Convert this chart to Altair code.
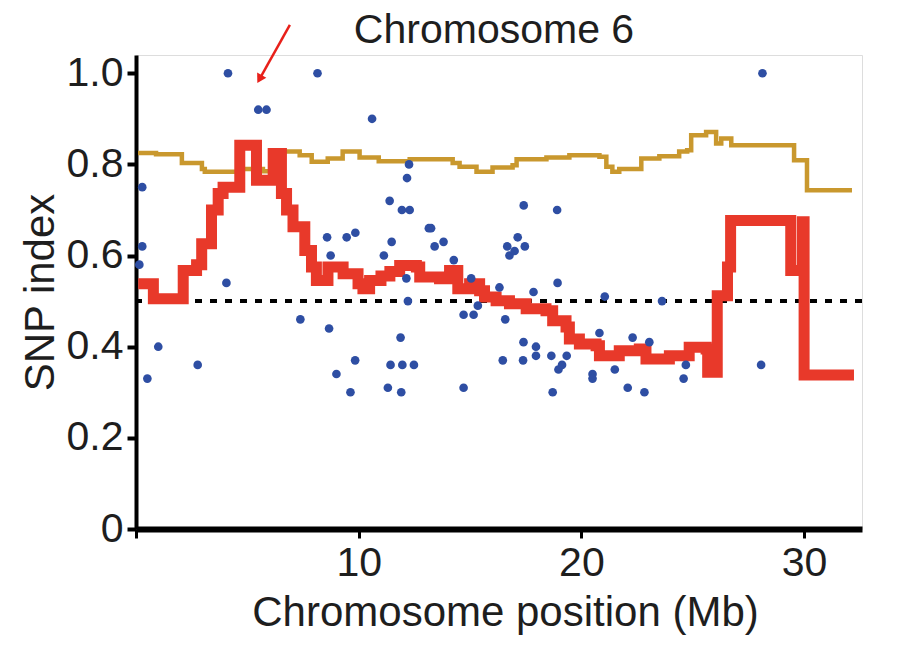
import altair as alt
import pandas as pd

# ---- data ----
pt_x = [0.15, 0.28, 0.28, 0.51, 1.00, 2.77, 4.06, 4.13, 5.49, 5.86, 7.38, 8.15, 8.58, 8.67, 8.74,
        9.00, 9.46, 9.63, 9.84, 9.85, 10.60, 11.13, 11.31, 11.39, 11.43, 11.48, 11.88, 11.91, 11.94,
        11.96, 12.14, 12.17, 12.21, 12.26, 12.29, 12.48, 13.15, 13.25, 13.41, 13.81, 14.27, 14.71,
        14.71, 15.05, 15.16, 15.35, 16.32, 16.47, 16.58, 16.67, 16.77, 17.00, 17.14, 17.38, 17.40,
        17.41, 17.46, 17.85, 17.96, 17.96, 18.65, 18.71, 18.91, 18.93, 18.97, 19.13, 19.34, 20.50,
        20.50, 20.81, 21.05, 21.50, 22.08, 22.30, 22.83, 23.05, 23.62, 24.59, 24.69, 28.07, 28.13]
pt_y = [0.58, 0.75, 0.62, 0.33, 0.40, 0.36, 0.54, 1.00, 0.92, 0.92, 0.46, 1.00, 0.64, 0.44, 0.60,
        0.34, 0.64, 0.30, 0.37, 0.65, 0.90, 0.60, 0.31, 0.72, 0.36, 0.63, 0.42, 0.30, 0.70,
        0.36, 0.55, 0.77, 0.50, 0.80, 0.70, 0.36, 0.66, 0.66, 0.62, 0.63, 0.59, 0.47,
        0.31, 0.55, 0.47, 0.49, 0.53, 0.37, 0.46, 0.62, 0.60, 0.61, 0.64, 0.37, 0.41,
        0.71, 0.62, 0.52, 0.40, 0.38, 0.38, 0.30, 0.70, 0.54, 0.35, 0.36, 0.38, 0.34,
        0.33, 0.43, 0.51, 0.35, 0.31, 0.42, 0.30, 0.41, 0.50, 0.33, 0.36, 0.36, 1.00]

gold_x = [0.09, 0.90, 2.06, 2.96, 3.09, 4.66, 5.70, 6.59, 7.35, 7.89, 8.61, 9.28, 10.04, 10.90,
          12.29, 14.22, 14.53, 15.29, 16.01, 16.91, 17.09, 18.43, 19.46, 20.81, 21.12, 21.39,
          21.70, 22.69, 23.50, 24.39, 24.75, 24.93, 25.60, 26.05, 26.28, 26.73, 29.55, 30.13, 32.15]
gold_y = [0.825, 0.822, 0.803, 0.790, 0.784, 0.790, 0.785, 0.828, 0.820, 0.806, 0.813, 0.828,
          0.815, 0.807, 0.811, 0.803, 0.795, 0.784, 0.793, 0.798, 0.811, 0.815, 0.820, 0.817,
          0.795, 0.784, 0.790, 0.813, 0.818, 0.828, 0.831, 0.864, 0.871, 0.846, 0.857, 0.842,
          0.809, 0.743, 0.743]

red_x = [0.10, 0.78, 2.12, 2.72, 2.95, 3.39, 3.69, 3.91, 4.66, 5.41, 6.16, 6.53, 6.76, 7.05, 7.58,
         7.88, 8.10, 8.62, 9.30, 9.97, 10.19, 10.49, 11.00, 11.40, 11.84, 12.59, 12.74, 13.63,
         14.08, 14.45, 14.98, 15.43, 15.65, 16.17, 16.77, 17.52, 18.41, 18.71, 19.31, 19.46,
         19.91, 20.66, 20.81, 21.70, 22.60, 22.90, 23.95, 24.84, 25.60, 25.67, 26.10, 26.56,
         26.70, 29.40, 29.92, 30.00, 32.24]
red_y = [0.538, 0.505, 0.567, 0.580, 0.626, 0.700, 0.736, 0.750, 0.842, 0.765, 0.824, 0.736, 0.700,
         0.663, 0.611, 0.575, 0.545, 0.575, 0.560, 0.538, 0.527, 0.545, 0.555, 0.565, 0.578, 0.575,
         0.553, 0.549, 0.567, 0.527, 0.538, 0.523, 0.509, 0.501, 0.494, 0.483, 0.479, 0.457,
         0.443, 0.417, 0.406, 0.402, 0.380, 0.391, 0.395, 0.373, 0.380, 0.399, 0.395, 0.344,
         0.512, 0.575, 0.677, 0.567, 0.674, 0.338, 0.338]

threshold = [0.5]

# annotation arrow (start -> tip), in data units
arrow_x = [6.91]
arrow_y = [1.106]
arrow_x2 = [5.52]
arrow_y2 = [0.985]
head_x = [5.58]
head_y = [0.99]

title_text = "Chromosome 6"
x_title = "Chromosome position (Mb)"
y_title = "SNP index"
x_ticks = [0, 10, 20, 30]
y_ticks = [0, 0.2, 0.4, 0.6, 0.8, 1.0]

FONT = "Liberation Sans"
TXT = "#1e1e1e"

pts = pd.DataFrame({"x": pt_x, "y": pt_y})
gold = pd.DataFrame({"x": gold_x, "y": gold_y})
red = pd.DataFrame({"x": red_x, "y": red_y})
thr = pd.DataFrame({"y": threshold})
arrow = pd.DataFrame({"x": arrow_x, "y": arrow_y, "x2": arrow_x2, "y2": arrow_y2})
head = pd.DataFrame({"x": head_x, "y": head_y})

xs = alt.Scale(domain=[0, 32.6], nice=False, zero=False)
ys = alt.Scale(domain=[0, 1.04], nice=False)

x_axis = alt.Axis(values=x_ticks, labelExpr="datum.value == 0 ? '' : datum.label",
                  title=x_title, grid=False, domainWidth=6, domainColor="black",
                  tickColor="black", tickWidth=3, tickSize=9, labelFontSize=41,
                  titleFontSize=42, labelFont=FONT, titleFont=FONT, labelColor=TXT,
                  titleColor=TXT, titleFontWeight="normal", labelPadding=5, titlePadding=9,
                  titleX=369)
y_axis = alt.Axis(values=y_ticks,
                  labelExpr="datum.value == 0 ? '0' : format(datum.value, '.1f')",
                  title=y_title, grid=False, domainWidth=4, domainColor="black",
                  tickColor="black", tickWidth=4, tickSize=9, labelFontSize=41,
                  titleFontSize=42, labelFont=FONT, titleFont=FONT, labelColor=TXT,
                  titleColor=TXT, titleFontWeight="normal", labelPadding=4, titlePadding=4)

X = alt.X("x:Q", scale=xs, axis=x_axis)
Y = alt.Y("y:Q", scale=ys, axis=y_axis)

thr_layer = alt.Chart(thr).mark_rule(color="black", strokeWidth=4, strokeDash=[7, 8]).encode(
    y=alt.Y("y:Q", scale=ys, axis=y_axis))

gold_layer = alt.Chart(gold).mark_line(color="#c9982e", strokeWidth=4.5,
                                       interpolate="step-after").encode(x=X, y=Y)
red_layer = alt.Chart(red).mark_line(color="#e8392a", strokeWidth=11,
                                     interpolate="step-after").encode(x=X, y=Y)
pt_layer = alt.Chart(pts).mark_circle(color="#2e4ea3", size=75, opacity=1).encode(x=X, y=Y)

arrow_layer = alt.Chart(arrow).mark_rule(color="#e8201a", strokeWidth=2.5, clip=False).encode(
    x=X, y=Y, x2="x2:Q", y2="y2:Q")
head_layer = alt.Chart(head).mark_point(shape="triangle", color="#e8201a", filled=True,
                                        size=110, angle=209, opacity=1, clip=False).encode(x=X, y=Y)

chart = alt.layer(thr_layer, gold_layer, red_layer, pt_layer, arrow_layer, head_layer).properties(
    width=726, height=474,
    title=alt.TitleParams(title_text, fontSize=41, font=FONT, fontWeight="normal", color=TXT,
                          anchor="middle", frame="group", offset=0, dx=-5, dy=28),
    autosize=alt.AutoSizeParams(type="none"),
    padding={"left": 136, "top": 55, "right": 37, "bottom": 135},
).configure_view(stroke=None).configure(background="white")

chart.save("out.html", embed_options={"renderer": "svg", "actions": False})
